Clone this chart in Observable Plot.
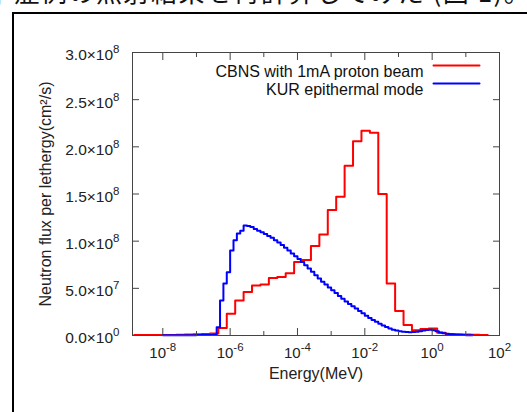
<!DOCTYPE html>
<html><head><meta charset="utf-8">
<script src="https://cdn.jsdelivr.net/npm/d3@7"></script>
<script src="https://cdn.jsdelivr.net/npm/@observablehq/plot@0.6"></script>
<style>
html,body{margin:0;padding:0;background:#fff;overflow:hidden;}
body{width:527px;height:412px;position:relative;font-family:"Liberation Sans",Arial,sans-serif;}
#jp{position:absolute;left:-14px;top:-23px;white-space:nowrap;font-family:"Noto Sans CJK JP";font-size:26px;line-height:27px;color:#111;letter-spacing:1.5px}
#box{position:absolute;left:12px;top:12px;width:700px;height:600px;border:2px solid #000;box-sizing:border-box}
#chart{position:absolute;left:0;top:0}
</style></head><body>
<div id="jp">中症例の照射結果を再計算してみた (図 1)。</div>
<div id="box"></div>
<div id="chart"></div>
<script>
// Series names
const seriesNames = ["CBNS with 1mA proton beam", "KUR epithermal mode"];
const seriesColors = ["#ff0000", "#0000ff"];

// CBNS: bin left edges as log10(Energy/MeV), flux per lethargy in units of 1e6 cm^-2 s^-1
const redLogE = [-8.85,-8.60,-8.35,-8.10,-7.85,-7.60,-7.35,-7.10,-6.85,-6.60,
  -6.35,-6.10,-5.85,-5.60,-5.35,-5.10,-4.85,-4.60,-4.35,-4.10,
  -3.85,-3.60,-3.35,-3.10,-2.85,-2.60,-2.35,-2.10,-1.85,-1.60,
  -1.35,-1.10,-0.85,-0.60,-0.35,-0.10,0.15,0.40,0.65,0.90,1.15,1.40];
const redFluxE6 = [0.5,0.5,0.5,0.5,0.5,0.7,1.0,1.2,1.5,2.0,
  8,23,37,46,53,54,61,62,66,78,
  80,95,107,133,147,180,206,217,215,150,
  55,26,11,5.5,7,7.5,3,1.5,1.2,1.0,0.8,0.5];
const redEndLogE = 1.65;

// KUR: bin left edges as log10(Energy/MeV), flux in units of 1e6
const blueLogE = [-8.0,-7.5,-7.0,-6.7,-6.5,
  -6.4,-6.3,-6.2,-6.1,-6.0,-5.9,-5.8,-5.7,-5.6,-5.5,-5.4,-5.3,-5.2,-5.1,-5.0,
  -4.9,-4.8,-4.7,-4.6,-4.5,-4.4,-4.3,-4.2,-4.1,-4.0,-3.9,-3.8,-3.7,-3.6,-3.5,
  -3.4,-3.3,-3.2,-3.1,-3.0,-2.9,-2.8,-2.7,-2.6,-2.5,-2.4,-2.3,-2.2,-2.1,-2.0,
  -1.9,-1.8,-1.7,-1.6,-1.5,-1.4,-1.3,-1.2,-1.1,-1.0,-0.9,-0.8,-0.7,-0.6,-0.5,
  -0.4,-0.3,-0.2,-0.1,0.0,0.1,0.2,0.3,0.4,0.5,0.6,0.7,0.8,0.9,1.0,1.1];
const blueFluxE6 = [0.2,0.3,0.4,0.5,0.8,
  8.8,37,55,67,90,101,108,111,116.5,116,115,113,111,109.5,107.5,
  105.5,103.5,101,98.5,96,93,90,87,84,81,78,74.5,71,67.5,64,
  60.5,57,54,51,48,45,42,39,36,33.5,31,28.5,26,23.5,21,
  18.5,16.5,14.5,12.5,10.5,9,7.5,6.2,5.2,4.5,4,3.7,3.5,3.6,4,
  4.6,5.2,5.8,6,5.5,4.5,3.3,2.5,1.8,1.3,1.0,0.7,0.5,0.4,0.3,0.2];
const blueEndLogE = 1.2;

// Axis ticks
const xMajorTicks = [1e-8, 1e-6, 1e-4, 1e-2, 1, 1e2];
const xMinorTicks = [1e-7, 1e-5, 1e-3, 1e-1, 1e1];
const yTicks = [0, 5e7, 1e8, 1.5e8, 2e8, 2.5e8, 3e8];
const xLabel = "Energy(MeV)";
const yLabel = "Neutron flux per lethergy(cm²/s)";

function toSteps(logE, fluxE6, endLogE) {
  const pts = logE.map((e, i) => ({E: 10 ** e, flux: fluxE6[i] * 1e6}));
  pts.push({E: 10 ** endLogE, flux: fluxE6[fluxE6.length - 1] * 1e6});
  return pts;
}
const redData = toSteps(redLogE, redFluxE6, redEndLogE);
const blueData = toSteps(blueLogE, blueFluxE6, blueEndLogE);

const supChars = "⁻⁰¹²³⁴⁵⁶⁷⁸⁹";
const plainChars = "-0123456789";
const toSup = s => String(s).replace(/./g, c => { const i = plainChars.indexOf(c); return i >= 0 ? supChars[i] : c; });
const fromSup = s => s.replace(/./g, c => { const i = supChars.indexOf(c); return i >= 0 ? plainChars[i] : c; });
const fmtX = d => "10" + toSup(Math.round(Math.log10(d)));
const fmtY = d => {
  if (d === 0) return "0.0×10" + toSup(0);
  const e = Math.floor(Math.log10(d) + 1e-9);
  return (d / 10 ** e).toFixed(1) + "×10" + toSup(e);
};
const blank = () => "";
const axisColor = "#444";
const lineShape = {draw(ctx, l) { ctx.moveTo(0, 0); ctx.lineTo(0, -l); }};

const chart = Plot.plot({
  width: 527, height: 412,
  marginLeft: 132, marginRight: 28, marginTop: 52, marginBottom: 77,
  style: {background: "transparent", fontFamily: "'Liberation Sans', Arial, sans-serif", fontSize: "15px", color: "#222"},
  x: {type: "log", domain: [10 ** -8.9, 100]},
  y: {domain: [0, 3e8]},
  marks: [
    Plot.line(redData, {x: "E", y: "flux", curve: "step-after", stroke: seriesColors[0], strokeWidth: 2}),
    Plot.line(blueData, {x: "E", y: "flux", curve: "step-after", stroke: seriesColors[1], strokeWidth: 2}),
    Plot.frame({stroke: axisColor}),
    // inward ticks (bottom/top)
    Plot.axisX(xMajorTicks, {anchor: "bottom", tickSize: 7, dy: -7, tickFormat: blank, label: null, stroke: axisColor}),
    Plot.axisX(xMinorTicks, {anchor: "bottom", tickSize: 4, dy: -4, tickFormat: blank, label: null, stroke: axisColor}),
    Plot.axisX(xMajorTicks, {anchor: "top", tickSize: 7, dy: 7, tickFormat: blank, label: null, stroke: axisColor}),
    Plot.axisX(xMinorTicks, {anchor: "top", tickSize: 4, dy: 4, tickFormat: blank, label: null, stroke: axisColor}),
    // inward ticks (left/right)
    Plot.axisY(yTicks, {anchor: "left", tickSize: 7, dx: 7, tickFormat: blank, label: null, stroke: axisColor}),
    Plot.axisY(yTicks, {anchor: "right", tickSize: 7, dx: -7, tickFormat: blank, label: null, stroke: axisColor}),
    // tick labels
    Plot.axisX(xMajorTicks, {anchor: "bottom", tickSize: 0, tickPadding: 12, tickFormat: fmtX, label: null, fill: "#222"}),
    Plot.axisY(yTicks, {anchor: "left", tickSize: 0, tickPadding: 13, tickFormat: fmtY, label: null, fill: "#222", dy: 3, fontSize: 15.5}),
    // axis titles
    Plot.text([xLabel], {text: d => d, frameAnchor: "bottom", dy: 43.5, fontSize: 16, fill: "#222"}),
    Plot.text([yLabel], {text: d => d, frameAnchor: "left", textAnchor: "middle", rotate: -90, dx: -87, fontSize: 16, fill: "#222"}),
    // legend
    Plot.text([seriesNames[0]], {text: d => d, frameAnchor: "top-right", textAnchor: "end", dx: -76, dy: 13, fontSize: 16, fill: "#111"}),
    Plot.text([seriesNames[1]], {text: d => d, frameAnchor: "top-right", textAnchor: "end", dx: -76, dy: 31, fontSize: 16, fill: "#111"}),
    Plot.vector([0], {frameAnchor: "top-right", dx: -66, dy: 13, length: 46, rotate: 90, anchor: "start", shape: lineShape, stroke: seriesColors[0], strokeWidth: 2}),
    Plot.vector([0], {frameAnchor: "top-right", dx: -66, dy: 31, length: 46, rotate: 90, anchor: "start", shape: lineShape, stroke: seriesColors[1], strokeWidth: 2})
  ]
});

// Render exponents as raised, smaller text
d3.select(chart).selectAll("text").each(function () {
  if (this.querySelector("tspan")) return;
  const t = this.textContent;
  const m = t.match(/^(.*10)([⁻⁰¹²³⁴⁵⁶⁷⁸⁹]+)$/);
  if (!m) return;
  this.textContent = m[1];
  d3.select(this).append("tspan").attr("dy", -7).attr("font-size", "11.5px").text(fromSup(m[2]));
});
document.getElementById("chart").append(chart);
</script>
</body></html>
